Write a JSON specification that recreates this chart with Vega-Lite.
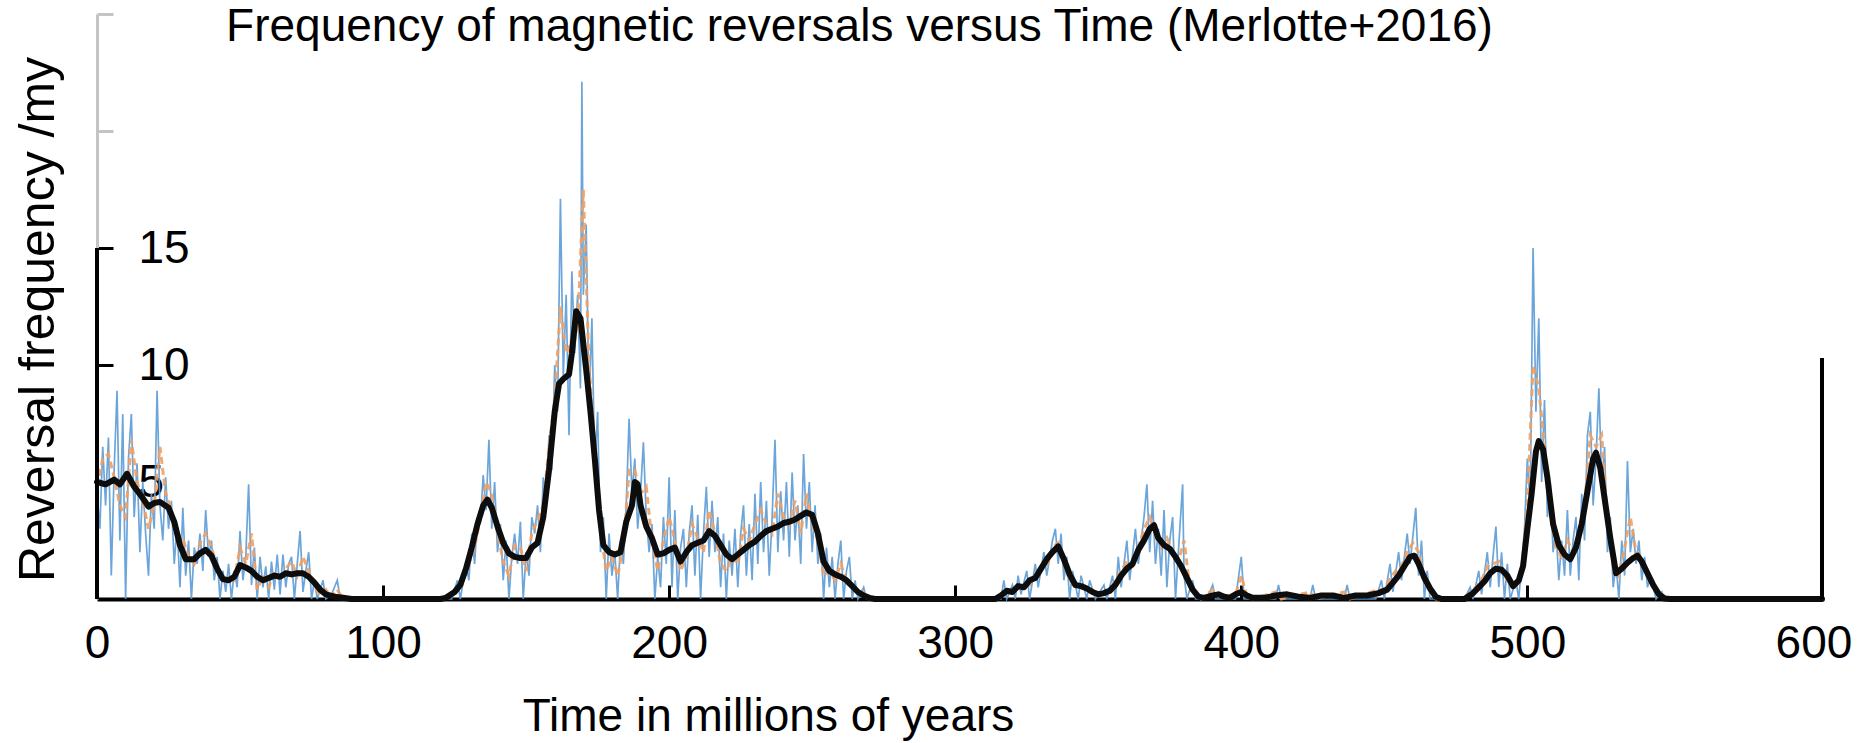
{
  "$schema": "https://vega.github.io/schema/vega-lite/v6.json",
  "autosize": {"type": "none"},
  "padding": {"left": 97, "top": 14, "right": 52, "bottom": 144},
  "width": 1725,
  "height": 585,
  "background": "white",
  "config": {
    "view": {"stroke": null},
    "font": "Liberation Sans"
  },
  "title": {
    "text": "Frequency of magnetic reversals versus Time (Merlotte+2016)",
    "font": "Liberation Sans",
    "fontSize": 46,
    "fontWeight": "normal",
    "color": "#000000",
    "anchor": "middle",
    "baseline": "alphabetic",
    "offset": 0,
    "dx": -100,
    "dy": 96
  },
  "datasets": {
    "raw": [
      {"t":0,"f":4.5},{"t":1,"f":3.0},{"t":2,"f":6.5},{"t":3,"f":4.0},{"t":4,"f":6.9},{"t":5,"f":1.0},{"t":6,"f":5.5},{"t":7,"f":8.9},{"t":8,"f":2.5},{"t":9,"f":7.9},
      {"t":10,"f":0.0},{"t":11,"f":6.0},{"t":12,"f":7.9},{"t":13,"f":3.5},{"t":14,"f":5.8},{"t":15,"f":2.0},{"t":16,"f":5.0},{"t":17,"f":2.8},{"t":18,"f":1.0},{"t":19,"f":4.5},
      {"t":20,"f":3.0},{"t":21,"f":8.9},{"t":22,"f":4.0},{"t":23,"f":2.5},{"t":24,"f":5.2},{"t":25,"f":3.0},{"t":26,"f":4.2},{"t":27,"f":1.5},{"t":28,"f":3.2},{"t":29,"f":0.5},
      {"t":30,"f":3.9},{"t":31,"f":1.0},{"t":32,"f":2.5},{"t":33,"f":0.0},{"t":34,"f":2.2},{"t":35,"f":1.5},{"t":36,"f":2.8},{"t":37,"f":1.2},{"t":38,"f":3.8},{"t":39,"f":1.8},
      {"t":40,"f":2.5},{"t":41,"f":0.8},{"t":42,"f":1.8},{"t":43,"f":0.0},{"t":44,"f":1.2},{"t":45,"f":0.3},{"t":46,"f":1.5},{"t":47,"f":0.0},{"t":48,"f":1.2},{"t":49,"f":0.5},
      {"t":50,"f":2.9},{"t":51,"f":0.8},{"t":52,"f":1.8},{"t":53,"f":4.9},{"t":54,"f":0.6},{"t":55,"f":2.2},{"t":56,"f":0.0},{"t":57,"f":1.8},{"t":58,"f":0.5},{"t":59,"f":1.4},
      {"t":60,"f":0.0},{"t":61,"f":1.6},{"t":62,"f":0.4},{"t":63,"f":1.9},{"t":64,"f":0.2},{"t":65,"f":1.9},{"t":66,"f":0.5},{"t":67,"f":1.5},{"t":68,"f":1.8},{"t":69,"f":0.0},
      {"t":70,"f":1.5},{"t":71,"f":2.9},{"t":72,"f":0.3},{"t":73,"f":1.2},{"t":74,"f":2.0},{"t":75,"f":0.0},{"t":76,"f":0.8},{"t":77,"f":0.0},{"t":79,"f":0.8},{"t":80,"f":0.0},
      {"t":82,"f":0.2},{"t":84,"f":0.8},{"t":85,"f":0.0},{"t":88,"f":0.0},{"t":120,"f":0.0},{"t":124,"f":0.0},{"t":126,"f":0.8},{"t":127,"f":0.0},{"t":129,"f":1.5},
      {"t":130,"f":0.8},{"t":131,"f":2.8},{"t":132,"f":1.5},{"t":133,"f":3.5},{"t":134,"f":3.2},{"t":135,"f":5.3},{"t":136,"f":3.8},{"t":137,"f":6.8},{"t":138,"f":3.0},{"t":139,"f":5.0},
      {"t":140,"f":2.0},{"t":141,"f":3.2},{"t":142,"f":0.8},{"t":143,"f":2.5},{"t":144,"f":0.0},{"t":145,"f":1.8},{"t":146,"f":2.8},{"t":147,"f":1.5},{"t":148,"f":3.3},{"t":149,"f":0.0},
      {"t":150,"f":2.0},{"t":151,"f":1.0},{"t":152,"f":3.5},{"t":153,"f":2.8},{"t":154,"f":4.0},{"t":155,"f":2.0},{"t":156,"f":5.2},{"t":157,"f":3.8},{"t":158,"f":7.0},{"t":159,"f":5.5},
      {"t":160,"f":10.0},{"t":161,"f":8.0},{"t":162,"f":17.1},{"t":163,"f":9.5},{"t":164,"f":13.0},{"t":165,"f":7.0},{"t":166,"f":14.0},{"t":167,"f":10.5},{"t":168,"f":13.0},{"t":169,"f":9.0},
      {"t":169.5,"f":22.1},{"t":170,"f":13.0},{"t":171,"f":16.0},{"t":172,"f":8.0},{"t":173,"f":12.0},{"t":174,"f":5.5},{"t":175,"f":8.0},{"t":176,"f":2.0},{"t":177,"f":3.5},{"t":178,"f":0.0},
      {"t":179,"f":2.8},{"t":180,"f":1.0},{"t":181,"f":2.0},{"t":182,"f":0.0},{"t":183,"f":2.5},{"t":184,"f":1.5},{"t":185,"f":4.0},{"t":186,"f":7.7},{"t":187,"f":4.5},{"t":188,"f":6.0},
      {"t":189,"f":3.0},{"t":190,"f":4.5},{"t":191,"f":6.7},{"t":192,"f":3.5},{"t":193,"f":2.0},{"t":194,"f":3.2},{"t":195,"f":0.0},{"t":196,"f":1.8},{"t":197,"f":0.5},{"t":198,"f":3.5},
      {"t":199,"f":1.5},{"t":200,"f":5.2},{"t":201,"f":0.5},{"t":202,"f":3.8},{"t":203,"f":0.0},{"t":204,"f":2.2},{"t":205,"f":3.0},{"t":206,"f":0.5},{"t":207,"f":2.8},{"t":208,"f":4.0},
      {"t":209,"f":1.0},{"t":210,"f":3.6},{"t":211,"f":0.0},{"t":212,"f":2.8},{"t":213,"f":4.8},{"t":214,"f":1.8},{"t":215,"f":4.2},{"t":216,"f":2.0},{"t":217,"f":3.5},{"t":218,"f":0.5},
      {"t":219,"f":2.8},{"t":220,"f":0.0},{"t":221,"f":2.5},{"t":222,"f":1.0},{"t":223,"f":3.0},{"t":224,"f":0.5},{"t":225,"f":2.8},{"t":226,"f":4.0},{"t":227,"f":1.0},{"t":228,"f":3.2},
      {"t":229,"f":0.8},{"t":230,"f":4.5},{"t":231,"f":1.5},{"t":232,"f":5.0},{"t":233,"f":2.0},{"t":234,"f":4.2},{"t":235,"f":1.0},{"t":236,"f":3.5},{"t":237,"f":6.8},{"t":238,"f":2.0},
      {"t":239,"f":4.6},{"t":240,"f":2.5},{"t":241,"f":5.0},{"t":242,"f":1.8},{"t":243,"f":5.4},{"t":244,"f":2.5},{"t":245,"f":4.0},{"t":246,"f":1.5},{"t":247,"f":6.2},{"t":248,"f":3.0},
      {"t":249,"f":5.0},{"t":250,"f":2.0},{"t":251,"f":4.0},{"t":252,"f":1.5},{"t":253,"f":2.8},{"t":254,"f":0.0},{"t":255,"f":2.2},{"t":256,"f":0.5},{"t":257,"f":1.8},{"t":258,"f":0.0},
      {"t":259,"f":1.5},{"t":260,"f":2.5},{"t":261,"f":0.0},{"t":262,"f":1.2},{"t":263,"f":1.8},{"t":264,"f":0.0},{"t":265,"f":0.8},{"t":266,"f":0.0},{"t":268,"f":0.5},{"t":269,"f":0.0},
      {"t":272,"f":0.0},{"t":314,"f":0.0},{"t":316,"f":0.0},{"t":317,"f":0.8},{"t":318,"f":0.0},{"t":320,"f":0.6},{"t":321,"f":0.0},{"t":322,"f":1.0},{"t":323,"f":0.2},{"t":325,"f":1.2},
      {"t":326,"f":0.0},{"t":328,"f":1.5},{"t":329,"f":0.5},{"t":331,"f":2.0},{"t":332,"f":1.0},{"t":334,"f":2.5},{"t":335,"f":3.0},{"t":336,"f":1.5},{"t":337,"f":2.8},{"t":338,"f":0.8},
      {"t":339,"f":1.8},{"t":340,"f":0.0},{"t":341,"f":1.2},{"t":343,"f":0.0},{"t":344,"f":1.0},{"t":346,"f":0.0},{"t":347,"f":0.8},{"t":349,"f":0.0},{"t":352,"f":0.6},{"t":353,"f":0.0},
      {"t":355,"f":1.0},{"t":356,"f":0.0},{"t":357,"f":1.8},{"t":358,"f":0.5},{"t":360,"f":2.5},{"t":361,"f":0.8},{"t":363,"f":3.0},{"t":364,"f":1.5},{"t":366,"f":3.5},{"t":367,"f":4.9},
      {"t":368,"f":2.0},{"t":369,"f":4.2},{"t":370,"f":1.5},{"t":371,"f":3.0},{"t":372,"f":1.0},{"t":373,"f":3.8},{"t":374,"f":0.5},{"t":375,"f":2.5},{"t":376,"f":3.5},{"t":377,"f":0.0},
      {"t":378,"f":2.0},{"t":379.5,"f":4.9},{"t":380,"f":1.0},{"t":381,"f":0.0},{"t":383,"f":0.8},{"t":384,"f":0.0},{"t":388,"f":0.0},{"t":390,"f":0.6},{"t":391,"f":0.0},{"t":398,"f":0.0},
      {"t":400,"f":1.8},{"t":401,"f":0.0},{"t":404,"f":0.0},{"t":412,"f":0.0},{"t":413,"f":0.6},{"t":414,"f":0.0},{"t":424,"f":0.0},{"t":425,"f":0.6},{"t":426,"f":0.0},{"t":436,"f":0.0},
      {"t":437,"f":0.6},{"t":438,"f":0.0},{"t":447,"f":0.0},{"t":449,"f":0.8},{"t":450,"f":0.0},{"t":452,"f":1.5},{"t":453,"f":0.3},{"t":455,"f":2.0},{"t":456,"f":0.8},{"t":458,"f":2.8},
      {"t":459,"f":1.5},{"t":461,"f":3.9},{"t":462,"f":1.0},{"t":463,"f":2.5},{"t":464,"f":0.0},{"t":465,"f":1.2},{"t":466,"f":0.0},{"t":478,"f":0.0},{"t":480,"f":0.5},{"t":481,"f":0.0},
      {"t":483,"f":1.2},{"t":484,"f":0.2},{"t":486,"f":2.0},{"t":487,"f":0.5},{"t":488,"f":1.8},{"t":489,"f":3.1},{"t":490,"f":0.5},{"t":491,"f":2.0},{"t":492,"f":0.0},{"t":493,"f":1.5},
      {"t":494,"f":0.0},{"t":496,"f":0.8},{"t":497,"f":0.0},{"t":498,"f":1.5},{"t":499,"f":3.0},{"t":500,"f":6.0},{"t":501,"f":4.0},{"t":502,"f":15.0},{"t":503,"f":8.0},{"t":504,"f":12.0},
      {"t":505,"f":5.0},{"t":506,"f":8.5},{"t":507,"f":3.5},{"t":508,"f":5.0},{"t":509,"f":2.0},{"t":510,"f":3.0},{"t":511,"f":0.8},{"t":512,"f":2.5},{"t":513,"f":1.0},{"t":514,"f":3.8},
      {"t":515,"f":1.0},{"t":516,"f":2.5},{"t":517,"f":3.5},{"t":518,"f":0.8},{"t":519,"f":4.5},{"t":520,"f":2.5},{"t":521,"f":7.0},{"t":522,"f":8.0},{"t":523,"f":4.0},{"t":524,"f":6.0},
      {"t":525,"f":9.0},{"t":526,"f":5.0},{"t":527,"f":6.5},{"t":528,"f":2.0},{"t":529,"f":3.5},{"t":530,"f":0.5},{"t":531,"f":1.5},{"t":532,"f":0.0},{"t":533,"f":2.5},{"t":534,"f":1.0},
      {"t":535,"f":5.9},{"t":536,"f":2.0},{"t":537,"f":3.0},{"t":538,"f":1.5},{"t":539,"f":2.5},{"t":540,"f":0.8},{"t":541,"f":1.8},{"t":542,"f":0.5},{"t":543,"f":1.0},{"t":545,"f":0.0},
      {"t":547,"f":0.3},{"t":548,"f":0.0},{"t":603,"f":0.0}
    ],
    "mid": [
      {"t":0,"f":4.8},{"t":2,"f":6.0},{"t":4,"f":6.2},{"t":6,"f":5.2},{"t":8,"f":4.0},{"t":10,"f":3.5},{"t":12,"f":6.8},{"t":14,"f":5.0},{"t":16,"f":4.2},{"t":18,"f":3.0},
      {"t":20,"f":4.0},{"t":22,"f":6.5},{"t":24,"f":4.5},{"t":26,"f":3.8},{"t":28,"f":2.8},{"t":30,"f":2.6},{"t":32,"f":1.8},{"t":34,"f":1.5},{"t":36,"f":2.4},{"t":38,"f":2.8},
      {"t":40,"f":2.2},{"t":42,"f":1.4},{"t":44,"f":0.8},{"t":46,"f":0.9},{"t":48,"f":0.8},{"t":50,"f":2.2},{"t":52,"f":1.5},{"t":54,"f":2.8},{"t":56,"f":0.4},{"t":58,"f":1.0},
      {"t":60,"f":0.5},{"t":62,"f":1.2},{"t":64,"f":0.8},{"t":66,"f":1.3},{"t":68,"f":1.6},{"t":70,"f":1.0},{"t":72,"f":1.8},{"t":74,"f":1.2},{"t":76,"f":0.5},{"t":78,"f":0.2},
      {"t":80,"f":0.4},{"t":82,"f":0.1},{"t":84,"f":0.4},{"t":86,"f":0.0},{"t":120,"f":0.0},{"t":126,"f":0.4},{"t":128,"f":0.8},{"t":130,"f":1.5},{"t":132,"f":2.2},{"t":134,"f":3.5},
      {"t":136,"f":5.0},{"t":138,"f":4.5},{"t":140,"f":2.8},{"t":142,"f":1.6},{"t":144,"f":1.0},{"t":146,"f":2.3},{"t":148,"f":2.2},{"t":150,"f":1.2},{"t":152,"f":2.8},{"t":154,"f":3.4},
      {"t":156,"f":4.0},{"t":158,"f":6.5},{"t":160,"f":8.5},{"t":162,"f":12.5},{"t":164,"f":10.5},{"t":166,"f":11.0},{"t":168,"f":11.5},{"t":170,"f":17.5},{"t":172,"f":10.0},{"t":174,"f":6.5},
      {"t":176,"f":3.0},{"t":178,"f":1.2},{"t":180,"f":1.8},{"t":182,"f":1.0},{"t":184,"f":2.2},{"t":186,"f":5.5},{"t":188,"f":5.5},{"t":190,"f":4.5},{"t":192,"f":4.8},{"t":194,"f":2.5},
      {"t":196,"f":1.2},{"t":198,"f":2.5},{"t":200,"f":3.5},{"t":202,"f":2.5},{"t":204,"f":1.2},{"t":206,"f":1.8},{"t":208,"f":3.2},{"t":210,"f":2.6},{"t":212,"f":2.0},{"t":214,"f":3.8},
      {"t":216,"f":2.8},{"t":218,"f":1.5},{"t":220,"f":1.2},{"t":222,"f":1.8},{"t":224,"f":1.5},{"t":226,"f":3.0},{"t":228,"f":2.5},{"t":230,"f":3.2},{"t":232,"f":3.8},{"t":234,"f":3.2},
      {"t":236,"f":2.8},{"t":238,"f":4.5},{"t":240,"f":3.5},{"t":242,"f":3.2},{"t":244,"f":4.2},{"t":246,"f":2.8},{"t":248,"f":4.5},{"t":250,"f":3.2},{"t":252,"f":2.5},{"t":254,"f":1.0},
      {"t":256,"f":1.2},{"t":258,"f":0.8},{"t":260,"f":1.5},{"t":262,"f":0.8},{"t":264,"f":0.6},{"t":266,"f":0.3},{"t":268,"f":0.3},{"t":270,"f":0.0},{"t":314,"f":0.0},{"t":318,"f":0.3},
      {"t":320,"f":0.4},{"t":322,"f":0.6},{"t":324,"f":0.5},{"t":326,"f":0.6},{"t":328,"f":1.0},{"t":330,"f":1.4},{"t":332,"f":1.4},{"t":334,"f":2.2},{"t":336,"f":2.4},{"t":338,"f":1.5},
      {"t":340,"f":0.8},{"t":342,"f":0.6},{"t":344,"f":0.6},{"t":346,"f":0.3},{"t":348,"f":0.4},{"t":350,"f":0.2},{"t":352,"f":0.4},{"t":354,"f":0.3},{"t":356,"f":0.8},{"t":358,"f":1.2},
      {"t":360,"f":1.6},{"t":362,"f":1.4},{"t":364,"f":2.2},{"t":366,"f":3.0},{"t":368,"f":3.5},{"t":370,"f":2.8},{"t":372,"f":2.2},{"t":374,"f":2.6},{"t":376,"f":2.0},{"t":378,"f":1.6},
      {"t":380,"f":2.5},{"t":382,"f":0.5},{"t":384,"f":0.3},{"t":386,"f":0.0},{"t":390,"f":0.4},{"t":392,"f":0.1},{"t":398,"f":0.2},{"t":400,"f":1.0},{"t":402,"f":0.1},{"t":404,"f":0.0},
      {"t":412,"f":0.3},{"t":414,"f":0.0},{"t":424,"f":0.3},{"t":426,"f":0.0},{"t":436,"f":0.3},{"t":438,"f":0.0},{"t":448,"f":0.4},{"t":450,"f":0.4},{"t":452,"f":0.9},{"t":454,"f":1.2},
      {"t":456,"f":1.4},{"t":458,"f":2.0},{"t":460,"f":2.4},{"t":462,"f":2.0},{"t":464,"f":0.8},{"t":466,"f":0.4},{"t":468,"f":0.0},{"t":478,"f":0.0},{"t":480,"f":0.3},{"t":482,"f":0.5},
      {"t":484,"f":0.8},{"t":486,"f":1.4},{"t":488,"f":1.5},{"t":490,"f":1.6},{"t":492,"f":1.0},{"t":494,"f":0.6},{"t":496,"f":0.5},{"t":498,"f":1.2},{"t":500,"f":4.0},{"t":502,"f":10.0},
      {"t":504,"f":9.0},{"t":506,"f":6.5},{"t":508,"f":4.0},{"t":510,"f":2.2},{"t":512,"f":1.8},{"t":514,"f":2.5},{"t":516,"f":2.0},{"t":518,"f":2.6},{"t":520,"f":4.0},{"t":522,"f":7.0},
      {"t":524,"f":6.5},{"t":526,"f":7.0},{"t":528,"f":3.5},{"t":530,"f":1.5},{"t":532,"f":1.0},{"t":534,"f":2.2},{"t":536,"f":3.5},{"t":538,"f":2.0},{"t":540,"f":1.8},{"t":542,"f":1.0},
      {"t":544,"f":0.5},{"t":546,"f":0.2},{"t":548,"f":0.0},{"t":603,"f":0.0}
    ],
    "smooth": [
      {"t":0,"f":5.0},{"t":3,"f":4.9},{"t":6,"f":5.1},{"t":8,"f":4.9},{"t":10.5,"f":5.35},{"t":13,"f":4.8},{"t":15.5,"f":4.4},{"t":18,"f":3.95},{"t":20,"f":4.1},{"t":22,"f":4.15},
      {"t":25,"f":3.9},{"t":27,"f":3.3},{"t":29,"f":2.3},{"t":31,"f":1.7},{"t":34,"f":1.7},{"t":36,"f":1.95},{"t":38,"f":2.1},{"t":40,"f":1.85},{"t":42,"f":1.3},{"t":44,"f":0.85},
      {"t":46,"f":0.8},{"t":48,"f":0.95},{"t":50,"f":1.45},{"t":52,"f":1.35},{"t":54,"f":1.2},{"t":56,"f":0.95},{"t":58,"f":0.8},{"t":60,"f":0.9},{"t":62,"f":1.0},{"t":64,"f":0.95},
      {"t":66,"f":1.1},{"t":68,"f":1.05},{"t":70,"f":1.1},{"t":72,"f":1.1},{"t":74,"f":0.95},{"t":76,"f":0.7},{"t":78,"f":0.4},{"t":80,"f":0.2},{"t":83,"f":0.1},{"t":86,"f":0.05},
      {"t":89,"f":0.0},{"t":120,"f":0.0},{"t":122,"f":0.05},{"t":125,"f":0.3},{"t":127,"f":0.6},{"t":129,"f":1.3},{"t":131,"f":2.2},{"t":133,"f":3.2},{"t":135,"f":4.0},{"t":136.5,"f":4.25},
      {"t":138,"f":3.9},{"t":140,"f":3.1},{"t":142,"f":2.4},{"t":144,"f":1.95},{"t":146,"f":1.8},{"t":148,"f":1.75},{"t":150,"f":1.75},{"t":152,"f":2.2},{"t":154,"f":2.4},{"t":156,"f":3.5},
      {"t":158,"f":5.5},{"t":160,"f":8.0},{"t":161.5,"f":9.2},{"t":163,"f":9.4},{"t":165,"f":9.6},{"t":166,"f":10.5},{"t":167.5,"f":12.3},{"t":169,"f":12.0},{"t":171,"f":9.8},{"t":172.5,"f":8.0},
      {"t":174,"f":6.0},{"t":175.5,"f":3.8},{"t":177,"f":2.3},{"t":179,"f":2.0},{"t":181,"f":1.9},{"t":183,"f":2.0},{"t":185,"f":3.3},{"t":187,"f":4.0},{"t":188,"f":5.0},{"t":189,"f":4.9},
      {"t":190,"f":4.0},{"t":192,"f":3.1},{"t":194,"f":2.6},{"t":196,"f":1.9},{"t":198,"f":1.95},{"t":200,"f":2.1},{"t":202,"f":2.2},{"t":204,"f":1.6},{"t":206,"f":2.0},{"t":208,"f":2.3},
      {"t":210,"f":2.4},{"t":212,"f":2.5},{"t":214,"f":2.9},{"t":216,"f":2.7},{"t":218,"f":2.3},{"t":220,"f":1.9},{"t":222,"f":1.7},{"t":224,"f":1.9},{"t":226,"f":2.1},{"t":228,"f":2.3},
      {"t":230,"f":2.45},{"t":232,"f":2.7},{"t":234,"f":2.9},{"t":236,"f":3.0},{"t":238,"f":3.1},{"t":240,"f":3.25},{"t":242,"f":3.3},{"t":244,"f":3.4},{"t":246,"f":3.55},{"t":248,"f":3.7},
      {"t":250,"f":3.6},{"t":252,"f":2.8},{"t":254,"f":1.6},{"t":256,"f":1.2},{"t":258,"f":1.05},{"t":260,"f":0.95},{"t":262,"f":0.8},{"t":264,"f":0.55},{"t":266,"f":0.3},{"t":268,"f":0.15},
      {"t":270,"f":0.05},{"t":272,"f":0.0},{"t":314,"f":0.0},{"t":316,"f":0.15},{"t":318,"f":0.35},{"t":320,"f":0.3},{"t":322,"f":0.55},{"t":324,"f":0.5},{"t":326,"f":0.8},{"t":328,"f":0.9},
      {"t":330,"f":1.3},{"t":332,"f":1.7},{"t":334,"f":2.0},{"t":336,"f":2.25},{"t":338,"f":1.7},{"t":340,"f":1.05},{"t":342,"f":0.6},{"t":344,"f":0.55},{"t":346,"f":0.45},{"t":348,"f":0.3},
      {"t":350,"f":0.2},{"t":352,"f":0.25},{"t":354,"f":0.35},{"t":356,"f":0.6},{"t":358,"f":1.0},{"t":360,"f":1.3},{"t":362,"f":1.5},{"t":364,"f":2.1},{"t":366,"f":2.5},{"t":368,"f":3.0},
      {"t":369.5,"f":3.15},{"t":371,"f":2.6},{"t":373,"f":2.3},{"t":375,"f":2.15},{"t":377,"f":1.8},{"t":379,"f":1.4},{"t":381,"f":0.9},{"t":383,"f":0.4},{"t":385,"f":0.1},{"t":387,"f":0.05},
      {"t":390,"f":0.15},{"t":392,"f":0.2},{"t":394,"f":0.1},{"t":396,"f":0.05},{"t":398,"f":0.2},{"t":400,"f":0.3},{"t":402,"f":0.15},{"t":404,"f":0.05},{"t":408,"f":0.05},{"t":412,"f":0.15},
      {"t":416,"f":0.2},{"t":420,"f":0.1},{"t":424,"f":0.05},{"t":428,"f":0.15},{"t":432,"f":0.15},{"t":436,"f":0.05},{"t":440,"f":0.15},{"t":444,"f":0.15},{"t":448,"f":0.25},{"t":451,"f":0.4},
      {"t":453,"f":0.7},{"t":455,"f":1.0},{"t":457,"f":1.4},{"t":459,"f":1.8},{"t":460.5,"f":1.85},{"t":462,"f":1.5},{"t":464,"f":0.9},{"t":466,"f":0.45},{"t":468,"f":0.1},{"t":470,"f":0.0},
      {"t":478,"f":0.0},{"t":481,"f":0.25},{"t":483,"f":0.5},{"t":485,"f":0.75},{"t":487,"f":1.1},{"t":489,"f":1.3},{"t":491,"f":1.25},{"t":493,"f":1.0},{"t":495,"f":0.55},{"t":497,"f":0.8},
      {"t":498.5,"f":1.4},{"t":500,"f":3.0},{"t":501.5,"f":4.5},{"t":503,"f":6.3},{"t":504,"f":6.75},{"t":505.5,"f":6.4},{"t":507,"f":5.2},{"t":509,"f":3.2},{"t":511,"f":2.3},{"t":513,"f":1.9},
      {"t":515,"f":1.7},{"t":517,"f":2.2},{"t":519,"f":3.2},{"t":521,"f":4.6},{"t":523,"f":6.0},{"t":524,"f":6.25},{"t":525.5,"f":5.6},{"t":527,"f":4.3},{"t":529,"f":2.6},{"t":531,"f":1.1},
      {"t":533,"f":1.3},{"t":535,"f":1.55},{"t":537,"f":1.75},{"t":538.5,"f":1.85},{"t":540,"f":1.6},{"t":542,"f":1.1},{"t":544,"f":0.6},{"t":546,"f":0.2},{"t":548,"f":0.02},{"t":550,"f":0.0},
      {"t":603,"f":0.0}
    ],
    "frame": [
      {"t":0,"f":0,"f2":15},
      {"t":603,"f":0,"f2":10.3}
    ]
  },
  "encoding": {
    "x": {
      "field": "t",
      "type": "quantitative",
      "scale": {"domain": [0, 603], "nice": false, "zero": false},
      "axis": {
        "values": [0, 100, 200, 300, 400, 500, 600],
        "grid": false,
        "domainColor": "#000000",
        "domainWidth": 4,
        "tickSize": -14,
        "tickWidth": 3,
        "tickColor": {"condition": {"test": "datum.value > 0 && datum.value < 600", "value": "#000000"}, "value": "transparent"},
        "labelFont": "Liberation Sans",
        "labelFontSize": 46,
        "labelColor": "#000000",
        "labelPadding": 36,
        "labelFlush": false,
        "labelOverlap": false,
        "labelBound": false,
        "title": "Time in millions of years",
        "titleFont": "Liberation Sans",
        "titleFontSize": 46,
        "titleFontWeight": "normal",
        "titleColor": "#000000",
        "titleX": 671,
        "titleY": 131,
        "titleAlign": "center",
        "titleBaseline": "alphabetic"
      }
    },
    "y": {
      "field": "f",
      "type": "quantitative",
      "scale": {"domain": [0, 25], "nice": false},
      "axis": {
        "values": [5, 10, 15, 20, 25],
        "labelExpr": "datum.value <= 15 ? datum.label : ''",
        "grid": false,
        "domainColor": "#c4c4c4",
        "domainWidth": 3,
        "tickSize": -16,
        "tickWidth": 3,
        "tickColor": {"condition": {"test": "datum.value <= 15", "value": "#000000"}, "value": "#c4c4c4"},
        "labelFont": "Liberation Sans",
        "labelFontSize": 46,
        "labelColor": "#000000",
        "labelAlign": "left",
        "labelBaseline": "middle",
        "labelPadding": -25,
        "labelOverlap": false,
        "labelBound": false,
        "title": "Reversal frequency /my",
        "titleFont": "Liberation Sans",
        "titleFontSize": 50,
        "titleFontWeight": "normal",
        "titleColor": "#000000",
        "titleAngle": -90,
        "titleX": -44,
        "titleY": 305,
        "titleAlign": "center",
        "titleBaseline": "alphabetic"
      }
    }
  },
  "layer": [
    {
      "data": {"name": "raw"},
      "mark": {"type": "line", "color": "#5b9bd5", "strokeWidth": 1.7, "opacity": 0.9}
    },
    {
      "data": {"name": "mid"},
      "mark": {"type": "line", "color": "#efa065", "strokeWidth": 3, "strokeDash": [7, 4], "opacity": 0.9}
    },
    {
      "data": {"name": "smooth"},
      "mark": {"type": "line", "color": "#0d0d0d", "strokeWidth": 6, "strokeJoin": "round", "strokeCap": "round"}
    },
    {
      "data": {"name": "frame"},
      "mark": {"type": "rule", "color": "#000000", "strokeWidth": 4},
      "encoding": {"y2": {"field": "f2"}}
    }
  ]
}
